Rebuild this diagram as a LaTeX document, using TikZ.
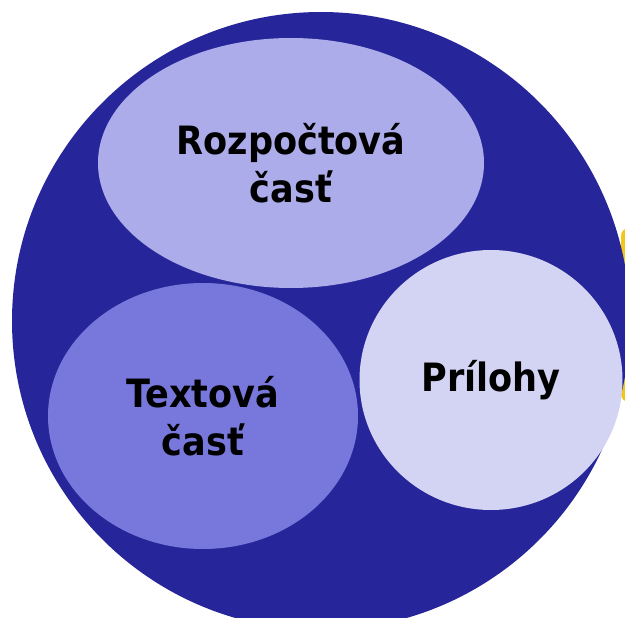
\documentclass[tikz,border=0pt]{standalone}
\usepackage{fontspec}
\setmainfont{DejaVu Sans Condensed}
\usetikzlibrary{shapes.geometric}
\definecolor{budgetdark}{HTML}{26269A}
\definecolor{budgetlight}{HTML}{ACACEA}
\definecolor{budgetmid}{HTML}{7878DC}
\definecolor{budgetpale}{HTML}{D3D3F3}
\definecolor{budgetyellow}{HTML}{F5C518}
\begin{document}
\begin{tikzpicture}[x=1pt, y=-1pt]
    \tikzstyle{part}=[ellipse, inner sep=0pt, align=center, font=\bfseries\fontsize{39}{48}\selectfont]

    \useasboundingbox (0,0) rectangle (625,618);
    \clip (0,0) rectangle (625,618);

    \fill [budgetyellow, rounded corners=8pt] (621,228) rectangle (680,402);
    \node [circle, fill=budgetdark, minimum size=618pt, inner sep=0pt] (whole) at (321,321) {};

    \node [part, fill=budgetlight, minimum width=386pt, minimum height=250pt] (budget) at (291,163) {Rozpočtová\\časť};
    \node [part, fill=budgetmid, minimum width=310pt, minimum height=266pt] (text) at (203,416) {Textová\\časť};
    \node [part, fill=budgetpale, minimum width=263pt, minimum height=260pt] (annex) at (491,380) {Prílohy};
  \end{tikzpicture}
\end{document}
